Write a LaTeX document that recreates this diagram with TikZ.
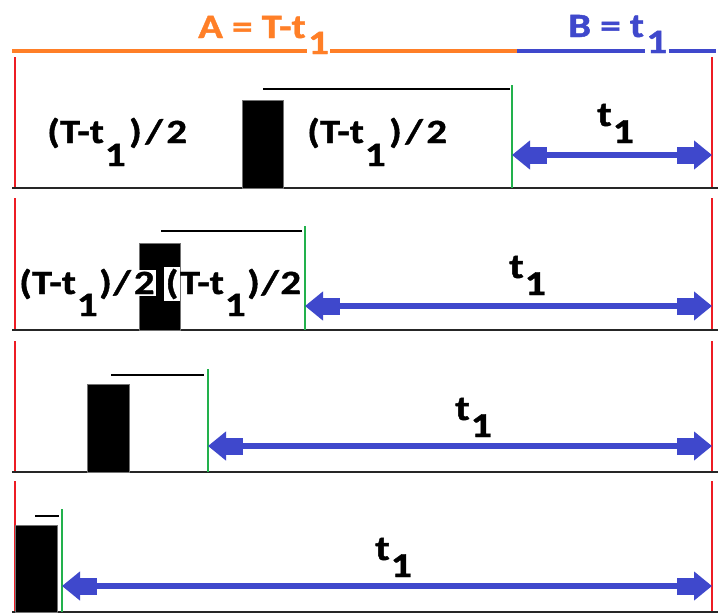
\documentclass[tikz,border=0pt]{standalone}
\usepackage{fontspec}
\usetikzlibrary{arrows.meta}
\newfontfamily\lblfont{Carlito}[FakeStretch=1.2, FakeBold=1.2]
\definecolor{paintorange}{HTML}{FF7F27}
\definecolor{paintblue}{HTML}{3F48CC}
\definecolor{paintred}{HTML}{ED1C24}
\definecolor{paintgreen}{HTML}{22B14C}
% subscript one, set at full size and lowered
\newcommand\lowone[1]{\raisebox{-#1}{1}}
% glyph on a tight white patch
\newcommand\onwhite[1]{{\setlength{\fboxsep}{1.5pt}\colorbox{white}{#1}}}
% (T-t1)/2: #1 drop of the 1, #2 gap around the slash,
% #3/#4 wrappers for the first and last glyph
\newcommand\halfspanx[4]{#3{(}T-t\hspace{1pt}\lowone{#1}\hspace{#2})\hspace{#2}/\hspace{#2}#4{2}}
\newcommand\plain[1]{#1}
\begin{document}
\begin{tikzpicture}[x=1pt,y=-1pt,
  baseline rule/.style={line width=2.2pt, black!85},
  bound/.style={line width=1.6pt, paintred},
  gate/.style={line width=1.6pt, paintgreen},
  topbar/.style={line width=1.8pt, black},
  pulse/.style={fill=black, draw=black!55, line width=0.6pt},
  span/.style={line width=5.5pt, paintblue,
    {Triangle[length=18pt,width=28pt] Rectangle[length=17pt,width=17pt,sep=0pt]}-{Rectangle[length=17pt,width=17pt,sep=0pt] Triangle[length=18pt,width=28pt]}},
  lbl/.style={inner sep=0pt, anchor=base west,
    font=\lblfont\bfseries\fontsize{34}{40}\selectfont},
  tlbl/.style={inner sep=0pt, anchor=base west,
    font=\lblfont\bfseries\fontsize{35}{40}\selectfont},
  head/.style={inner sep=0pt, anchor=base west,
    font=\lblfont\bfseries\fontsize{34}{40}\selectfont}
]
\useasboundingbox[fill=white] (0,0) rectangle (720,613);

% header bar: A (orange) and B (blue)
\coordinate (hL) at (12,51);
\coordinate (hM) at (517,51);
\coordinate (hR) at (716,51);
\draw[line width=4.5pt, paintorange] (hL) -- (hM);
\draw[line width=4.5pt, paintblue] (hM) -- (hR);
\node[head, text=paintorange] (hA) at (198,38)
  {A = T-t\hspace{1pt}\onwhite{\lowone{16pt}}};
\node[head, text=paintblue] (hB) at (568,37)
  {B = t\hspace{1pt}\onwhite{\lowone{16pt}}};

% red period bounds
\foreach \yt/\yb [count=\i] in {57/188, 198/330, 341/472, 481/612} {
  \coordinate (lt\i) at (15,\yt);  \coordinate (lb\i) at (15,\yb);
  \coordinate (rt\i) at (712,\yt); \coordinate (rb\i) at (712,\yb);
  \draw[bound] (lt\i) -- (lb\i);
  \draw[bound] (rt\i) -- (rb\i);
}

% time axes
\foreach \yb [count=\i] in {188, 330, 472, 612} {
  \coordinate (a\i) at (12,\yb); \coordinate (b\i) at (718,\yb);
  \draw[baseline rule] (a\i) -- (b\i);
}

% pulses, hold bars, gates and t1 spans
\foreach \x/\xx/\yr/\yb/\ta/\tb/\yl/\g/\gt/\ya [count=\i] in {
   242/283/100/188/263/510/89/512/85/155,
   139/180/243/330/161/302/231/305/226/306,
   87/129/384/472/111/204/375/208/369/446,
   15/57/525/612/35/59/516/62/509/586} {
  \path[pulse] (\x,\yr) rectangle (\xx,\yb);
  \coordinate (ba\i) at (\ta,\yl); \coordinate (bb\i) at (\tb,\yl);
  \draw[topbar] (ba\i) -- (bb\i);
  \coordinate (ga\i) at (\g,\gt); \coordinate (gb\i) at (\g,\yb);
  \draw[gate] (ga\i) -- (gb\i);
  \coordinate (s\i) at (\g,\ya); \coordinate (e\i) at (712,\ya);
  \draw[span] (s\i) -- (e\i);
}

% half-interval labels
\node[lbl] (h1a) at (47,143) {\halfspanx{23pt}{3.5pt}{\plain}{\plain}};
\node[lbl] (h1b) at (307,143) {\halfspanx{23pt}{3.5pt}{\plain}{\plain}};
\node[lbl] (h2a) at (19,294) {\halfspanx{22pt}{1.5pt}{\plain}{\onwhite}};
\node[lbl] (h2b) at (164,294) {\halfspanx{22pt}{1.5pt}{\onwhite}{\plain}};

% t1 labels
\node[tlbl] (t1) at (597,126) {t\hspace{1pt}\lowone{17pt}};
\node[tlbl] (t2) at (509,278) {t\hspace{1pt}\lowone{17pt}};
\node[tlbl] (t3) at (455,420) {t\hspace{1pt}\lowone{17pt}};
\node[tlbl] (t4) at (375,560) {t\hspace{1pt}\lowone{17pt}};
\end{tikzpicture}
\end{document}
